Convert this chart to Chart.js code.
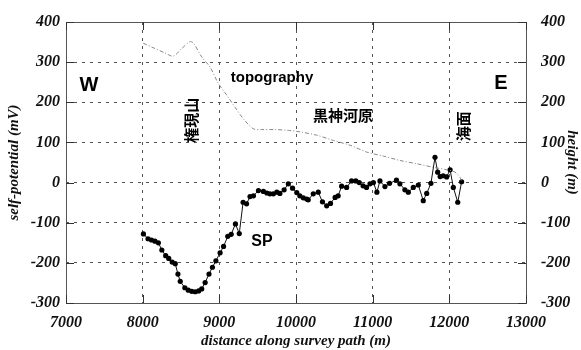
<!DOCTYPE html>
<html>
<head>
<meta charset="utf-8">
<script src="https://cdn.jsdelivr.net/npm/chart.js@4/dist/chart.umd.min.js"></script>
<style>
  html, body { margin: 0; padding: 0; background: #fff; }
  #wrap { width: 581px; height: 350px; }
</style>
</head>
<body>
<div id="wrap"><canvas id="c" width="581" height="350"></canvas></div>
<script>
// Self-potential profile (mV) along the survey path
const spDistance = [8010, 8070, 8115, 8160, 8205, 8250, 8300, 8340, 8385, 8425, 8460, 8490, 8550, 8595, 8640, 8685, 8730, 8770, 8815, 8865, 8910, 8955, 9010, 9055, 9110, 9155, 9210, 9260, 9310, 9355, 9400, 9445, 9510, 9575, 9620, 9660, 9705, 9750, 9790, 9845, 9900, 9955, 10010, 10050, 10095, 10140, 10160, 10225, 10290, 10345, 10400, 10450, 10510, 10550, 10595, 10660, 10725, 10780, 10825, 10875, 10920, 10965, 11010, 11055, 11095, 11160, 11220, 11310, 11355, 11420, 11465, 11530, 11595, 11660, 11705, 11760, 11813, 11848, 11880, 11920, 11965, 12010, 12052, 12110, 12160];
const spValue = [-128, -140, -143, -146, -150, -168, -182, -189, -198, -202, -228, -246, -262, -268, -271, -272, -270, -265, -249, -228, -211, -195, -175, -159, -134, -129, -103, -127, -49, -53, -35, -33, -20, -22, -26, -28, -28, -24, -27, -18, -3, -14, -25, -33, -38, -41, -43, -28, -24, -48, -58, -52, -37, -33, -9, -12, 4, 4, 0, -8, -12, -3, 0, -24, 4, -10, -2, 6, -3, -18, -24, -12, -6, -45, -27, -2, 63, 26, 15, 17, 14, 32, -12, -49, 2];

// Ground elevation (m) along the same path
const topoDistance = [8008, 8160, 8290, 8400, 8510, 8617, 8661, 8770, 8878, 8987, 9096, 9204, 9313, 9443, 9552, 9726, 9900, 10060, 10270, 10487, 10704, 10922, 11139, 11357, 11574, 11791, 11965, 12074, 12139, 12161];
const topoHeight = [347, 334, 323, 315, 334, 351, 348, 313, 288, 247, 218, 188, 159, 134, 132, 132, 130, 126, 118, 105, 93, 76, 66, 55, 47, 38, 32, 26, 13, 1];

// Axis tick values
const xTicks = [7000, 8000, 9000, 10000, 11000, 12000, 13000];
const yTicks = [-300, -200, -100, 0, 100, 200, 300, 400];

// Text placed on the plot, anchored in data coordinates
const notes = [
  { text: 'W', x: 7300, y: 242, font: 'bold 20px "Liberation Sans", Arial, sans-serif' },
  { text: 'E', x: 12674, y: 247, font: 'bold 20px "Liberation Sans", Arial, sans-serif' },
  { text: 'topography', x: 9687, y: 262, font: 'bold 15px "Liberation Sans", Arial, sans-serif' },
  { text: 'SP', x: 9557, y: -148, font: 'bold 16px "Liberation Sans", Arial, sans-serif' },
  { text: '黒神河原', x: 10613, y: 167, font: 'bold 15px "Noto Sans CJK JP", sans-serif' },
  { text: '権現山', x: 8630, y: 155, font: 'bold 15px "Noto Sans CJK JP", sans-serif', rotate: true },
  { text: '海面', x: 12178, y: 140, font: 'bold 15px "Noto Sans CJK JP", sans-serif', rotate: true }
];

const serif = '"Liberation Serif", "Times New Roman", serif';
const tickFont = { family: serif, size: 16, style: 'italic', weight: 'bold' };
const titleFont = { family: serif, size: 15, style: 'italic', weight: 'bold' };
const gridStyle = { color: '#555', lineWidth: 1, drawTicks: false };
const dash = [3, 5];

// Frame, inward tick marks and text notes
const decorations = {
  id: 'decorations',
  afterDatasetsDraw(chart) {
    const { ctx, chartArea: a, scales } = chart;
    ctx.save();
    ctx.strokeStyle = '#555';
    ctx.lineWidth = 1;
    ctx.strokeRect(a.left + 0.5, a.top + 0.5, a.right - a.left, a.bottom - a.top);
    ctx.strokeStyle = '#333';
    ctx.beginPath();
    xTicks.forEach(v => {
      const px = Math.round(scales.x.getPixelForValue(v)) + 0.5;
      ctx.moveTo(px, a.bottom); ctx.lineTo(px, a.bottom - 8);
      ctx.moveTo(px, a.top); ctx.lineTo(px, a.top + 8);
    });
    yTicks.forEach(v => {
      const py = Math.round(scales.y.getPixelForValue(v)) + 0.5;
      ctx.moveTo(a.left, py); ctx.lineTo(a.left + 8, py);
      ctx.moveTo(a.right, py); ctx.lineTo(a.right - 8, py);
    });
    ctx.stroke();

    ctx.fillStyle = '#000';
    ctx.textAlign = 'center';
    ctx.textBaseline = 'middle';
    notes.forEach(n => {
      const px = scales.x.getPixelForValue(n.x);
      const py = scales.y.getPixelForValue(n.y);
      ctx.font = n.font;
      ctx.save();
      ctx.translate(px, py);
      if (n.rotate) ctx.rotate(-Math.PI / 2);
      ctx.fillText(n.text, 0, 0);
      ctx.restore();
    });
    ctx.restore();
  }
};

new Chart(document.getElementById('c'), {
  type: 'line',
  data: {
    datasets: [
      {
        label: 'topography',
        data: topoDistance.map((d, i) => ({ x: d, y: topoHeight[i] })),
        yAxisID: 'y2',
        borderColor: '#888',
        borderWidth: 1,
        borderDash: [4, 2, 1, 2],
        pointRadius: 0,
        tension: 0.3,
        fill: false
      },
      {
        label: 'SP',
        data: spDistance.map((d, i) => ({ x: d, y: spValue[i] })),
        yAxisID: 'y',
        borderColor: '#111',
        borderWidth: 1,
        pointRadius: 2.6,
        pointBackgroundColor: '#000',
        pointBorderColor: '#000',
        pointBorderWidth: 0,
        tension: 0,
        fill: false
      }
    ]
  },
  options: {
    responsive: false,
    animation: false,
    events: [],
    layout: { padding: { top: 22, left: 0, right: 0, bottom: 0 } },
    plugins: { legend: { display: false }, tooltip: { enabled: false } },
    scales: {
      x: {
        type: 'linear',
        min: 7000, max: 13000,
        afterBuildTicks: s => { s.ticks = xTicks.map(v => ({ value: v })); },
        afterFit: s => { s.height = 47; },
        grid: gridStyle,
        border: { display: false, dash: dash },
        ticks: { font: tickFont, color: '#111', padding: 10, maxRotation: 0, callback: v => String(v) },
        title: { display: true, text: 'distance along survey path (m)', font: titleFont, color: '#111', padding: { top: 0, bottom: 0 } }
      },
      y: {
        position: 'left',
        min: -300, max: 400,
        afterBuildTicks: s => { s.ticks = yTicks.map(v => ({ value: v })); },
        afterFit: s => { s.width = 66; },
        grid: gridStyle,
        border: { display: false, dash: dash },
        ticks: { font: tickFont, color: '#111', padding: 6, callback: v => String(v) },
        title: { display: true, text: 'self-potential (mV)', font: titleFont, color: '#111', padding: { top: 5, bottom: 0 } }
      },
      y2: {
        position: 'right',
        min: -300, max: 400,
        afterBuildTicks: s => { s.ticks = yTicks.map(v => ({ value: v })); },
        afterFit: s => { s.width = 55; },
        grid: { display: false },
        border: { display: false },
        ticks: { font: tickFont, color: '#111', padding: 7, callback: v => String(v) },
        title: { display: true, text: 'height (m)', font: titleFont, color: '#111', padding: { top: 0, bottom: 0 } }
      }
    }
  },
  plugins: [decorations]
});
</script>
</body>
</html>
